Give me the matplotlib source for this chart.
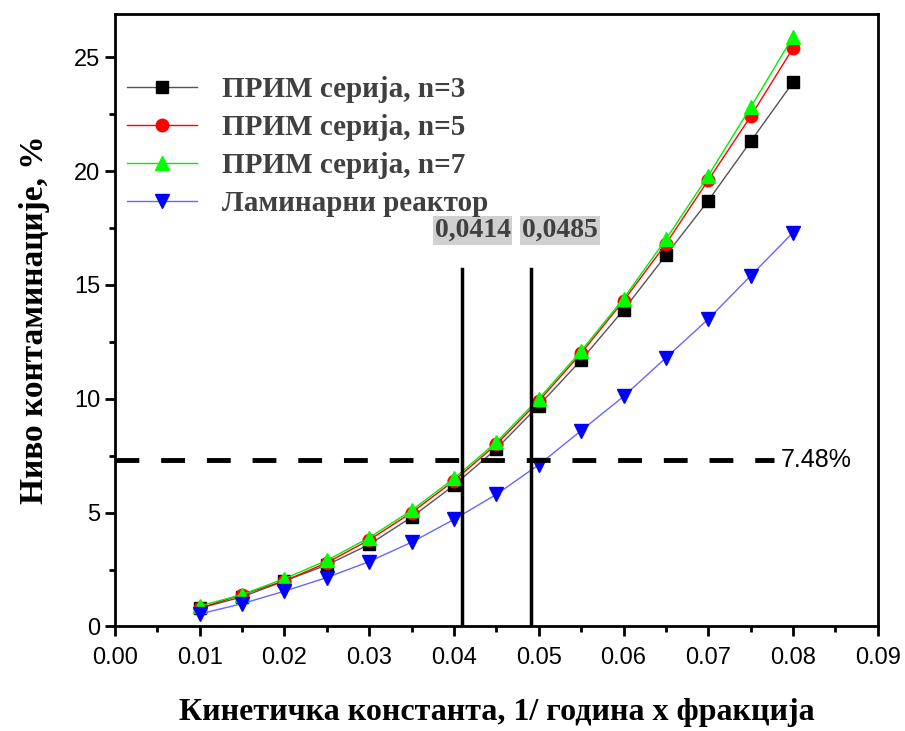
import matplotlib.pyplot as plt
import numpy as np

k = [0.010, 0.015, 0.020, 0.025, 0.030, 0.035, 0.040, 0.045,
     0.050, 0.055, 0.060, 0.065, 0.070, 0.075, 0.080]
prim_n3 = [0.8, 1.3, 2.0, 2.7, 3.6, 4.8, 6.2, 7.8,
           9.7, 11.7, 13.9, 16.3, 18.7, 21.3, 23.9]
prim_n5 = [0.8, 1.4, 2.0, 2.8, 3.8, 5.0, 6.4, 8.0,
           9.9, 12.0, 14.3, 16.8, 19.6, 22.4, 25.4]
prim_n7 = [0.9, 1.4, 2.1, 2.9, 3.9, 5.1, 6.5, 8.1,
           10.0, 12.1, 14.4, 17.0, 19.8, 22.8, 25.9]
laminar = [0.55, 1.0, 1.55, 2.15, 2.85, 3.7, 4.7, 5.8,
           7.1, 8.6, 10.1, 11.8, 13.5, 15.4, 17.3]

labels = ["ПРИМ серија, n=3", "ПРИМ серија, n=5",
          "ПРИМ серија, n=7", "Ламинарни реактор"]
limit_text = "7.48%"
limit_y = 7.3              # where the dashed line sits in the picture
k_cross = [0.0409, 0.0491]  # vertical lines as drawn
k_cross_text = ["0,0414", "0,0485"]

plt.rcParams['font.family'] = ['Liberation Sans', 'DejaVu Sans']
serif = ['Liberation Serif', 'DejaVu Serif']

fig = plt.figure(figsize=(9.05, 7.31), dpi=100)
ax = fig.add_axes([0.127, 0.143, 0.843, 0.838])

ax.plot(k, prim_n3, color="#555555", lw=1, marker="s", ms=9, mfc="black", mec="black", label=labels[0])
ax.plot(k, prim_n5, color="red", lw=1, marker="o", ms=9, mfc="red", mec="red", label=labels[1])
ax.plot(k, prim_n7, color="#00ee00", lw=1, marker="^", ms=10, mfc="#00ff00", mec="#00ff00", label=labels[2])
ax.plot(k, laminar, color="#6666ff", lw=1, marker="v", ms=10, mfc="blue", mec="blue", label=labels[3])

# threshold line and crossing points
ax.plot([0, 0.0778], [limit_y, limit_y], color="black", lw=3.5, ls=(0, (4.9, 4.5)))
ax.text(0.0785, limit_y, limit_text, fontsize=18, va="center", ha="left")
for xc, txt, dx in zip(k_cross, k_cross_text, [-0.0032, -0.0011]):
    ax.plot([xc, xc], [0, 15.7], color="black", lw=2.5)
    ax.text(xc + dx, 17.4, txt, fontsize=20, fontweight="bold", family=serif,
            color="#404040", ha="left", va="center",
            bbox=dict(facecolor="#d0d0d0", edgecolor="none", pad=1.5))

ax.set_xlim(0, 0.09)
ax.set_ylim(0, 26.9)
ax.set_xticks(np.arange(0, 0.091, 0.01))
ax.set_xticks(np.arange(0.005, 0.09, 0.01), minor=True)
ax.set_yticks([0, 5, 10, 15, 20, 25])
ax.set_yticks([2.5, 7.5, 12.5, 17.5, 22.5], minor=True)
ax.set_xticklabels([f"{v:.2f}" for v in np.arange(0, 0.091, 0.01)])
ax.tick_params(which="major", direction="out", length=7, width=2, labelsize=17)
ax.tick_params(axis="x", which="major", pad=8)
ax.tick_params(which="minor", direction="out", length=4, width=2)
for s in ax.spines.values():
    s.set_linewidth(2)

ax.set_xlabel("Кинетичка константа, 1/ година x фракција", fontsize=23,
              fontweight="bold", family=serif, labelpad=21)
ax.set_ylabel("Ниво контаминације, %", fontsize=24, fontweight="bold",
              family=serif, labelpad=17)

leg = ax.legend(loc="upper left", bbox_to_anchor=(0.016, 0.899), frameon=False,
                prop={'family': serif, 'weight': 'bold', 'size': 21},
                borderpad=0, borderaxespad=0,
                handlelength=2.4, labelspacing=0.38, handletextpad=0.86)
for t in leg.get_texts():
    t.set_color("#404040")

plt.savefig("out.png", dpi=100)
